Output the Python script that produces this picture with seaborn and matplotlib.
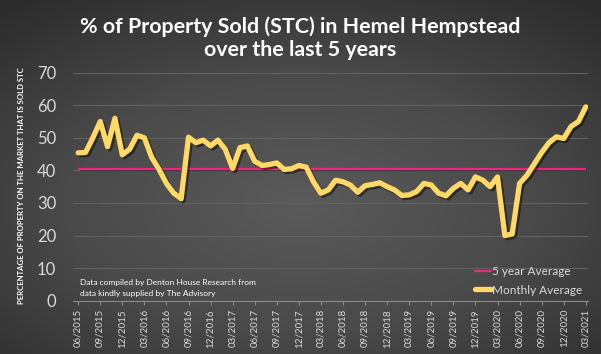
import numpy as np
import matplotlib.pyplot as plt
import matplotlib.patheffects as pe
from matplotlib.colors import LinearSegmentedColormap
from matplotlib.lines import Line2D
import pandas as pd
import seaborn as sns

# quarterly tick labels on the x axis
tick_labels = ['06/2015', '09/2015', '12/2015', '03/2016', '06/2016', '09/2016',
               '12/2016', '03/2017', '06/2017', '09/2017', '12/2017', '03/2018',
               '06/2018', '09/2018', '12/2018', '03/2019', '06/2019', '09/2019',
               '12/2019', '03/2020', '06/2020', '09/2020', '12/2020', '03/2021']

# % sold STC, one value per month 06/2015 .. 03/2021
monthly_avg = [45.4, 45.5, 50.0, 55.0, 47.3, 56.0, 44.8, 46.5, 50.8, 50.0,
               44.0, 40.3, 36.0, 33.0, 31.3, 50.2, 48.5, 49.3, 47.5, 49.3,
               46.5, 40.6, 47.0, 47.5, 42.8, 41.5, 41.8, 42.3, 40.3, 40.5,
               41.5, 41.0, 36.5, 33.0, 34.0, 37.0, 36.5, 35.5, 33.3, 35.3,
               35.7, 36.2, 35.0, 34.0, 32.3, 32.5, 33.5, 36.0, 35.5, 33.0,
               32.2, 34.5, 36.0, 34.0, 38.0, 37.0, 35.0, 38.0, 20.0, 20.5,
               36.0, 38.5, 42.0, 45.5, 48.5, 50.3, 49.8, 53.5, 55.0, 59.5]

five_year_avg = 40.5

df = pd.DataFrame({'idx': np.arange(len(monthly_avg)), 'pct': monthly_avg})

sns.set_style('dark')
plt.rcParams['font.family'] = ['Lato', 'DejaVu Sans']

W, H = 601, 354
fig = plt.figure(figsize=(W / 100, H / 100), dpi=100)

# radial grey background like the excel chart area
bg = fig.add_axes([0, 0, 1, 1], zorder=-10)
yy, xx = np.mgrid[-1:1:354j, -1:1:601j]
r = np.sqrt((xx * 0.85) ** 2 + ((yy - 0.15) * 0.9) ** 2)
cmap = LinearSegmentedColormap.from_list('bg', ['#5a5a5a', '#4a4a4a', '#2c2c2c'])
bg.imshow(r, cmap=cmap, vmin=0, vmax=1.3, aspect='auto')
bg.axis('off')

ax = fig.add_axes([73 / W, 1 - 300.7 / H, (588 - 73) / W, (300.7 - 72.7) / H])
ax.patch.set_alpha(0)

ax.hlines(five_year_avg, df['idx'].iloc[0], df['idx'].iloc[-1], color='#e8287e', lw=1.6,
          zorder=3, path_effects=[pe.SimpleLineShadow(offset=(1, -1), alpha=0.4), pe.Normal()])
sns.lineplot(data=df, x='idx', y='pct', ax=ax, color='#ffd966', lw=3.8, zorder=4,
             solid_joinstyle='round', solid_capstyle='round',
             path_effects=[pe.SimpleLineShadow(offset=(1.5, -1.5), alpha=0.45), pe.Normal()])

ax.set_ylim(0, 70)
ax.set_xlim(-0.7, 69.3)
ax.set_yticks(range(0, 71, 10))
ax.set_xticks(np.arange(0, len(monthly_avg), 3))
ax.set_xticklabels(tick_labels, rotation=90)
ax.tick_params(axis='y', labelsize=12, labelcolor='#d9d9d9', length=0, pad=12)
ax.tick_params(axis='x', labelsize=7, labelcolor='#d9d9d9', length=3, color='#8a8a8a',
               bottom=True, pad=3)
ax.grid(axis='y', color='#626262', lw=0.8)
ax.grid(axis='x', visible=False)
for s in ['top', 'right', 'left']:
    ax.spines[s].set_visible(False)
ax.spines['bottom'].set_color('#8a8a8a')
ax.spines['bottom'].set_linewidth(0.8)
ax.set_xlabel('')
ax.set_ylabel('')

fig.text(0.5, 1 - 27 / H, '% of Property Sold (STC) in Hemel Hempstead', ha='center', va='center',
         fontsize=15.4, fontweight='bold', color='white')
fig.text(0.5, 1 - 50 / H, 'over the last 5 years', ha='center', va='center',
         fontsize=15.4, fontweight='bold', color='white')
fig.text(22 / W, 1 - 186 / H, 'PERCENTAGE OF PROPERTY ON THE MARKET THAT IS SOLD STC',
         rotation=90, ha='center', va='center', fontsize=5.6, fontweight='bold', color='white')
fig.text(80 / W, 1 - 288 / H, 'Data compiled by Denton House Research from\ndata kindly supplied by The Advisory',
         ha='left', va='center', fontsize=6, color='white', linespacing=1.6)

handles = [Line2D([], [], color='#e8287e', lw=1.6),
           Line2D([], [], color='#ffd966', lw=3.8)]
leg = fig.legend(handles, ['5 year Average', 'Monthly Average'], loc='center left',
                 bbox_to_anchor=(470 / W, 1 - 281 / H), frameon=False, fontsize=8.5,
                 handlelength=1.4, handletextpad=0.1, labelspacing=0.6, borderaxespad=0)
for t in leg.get_texts():
    t.set_color('#d9d9d9')

fig.savefig('out.png', dpi=100)
